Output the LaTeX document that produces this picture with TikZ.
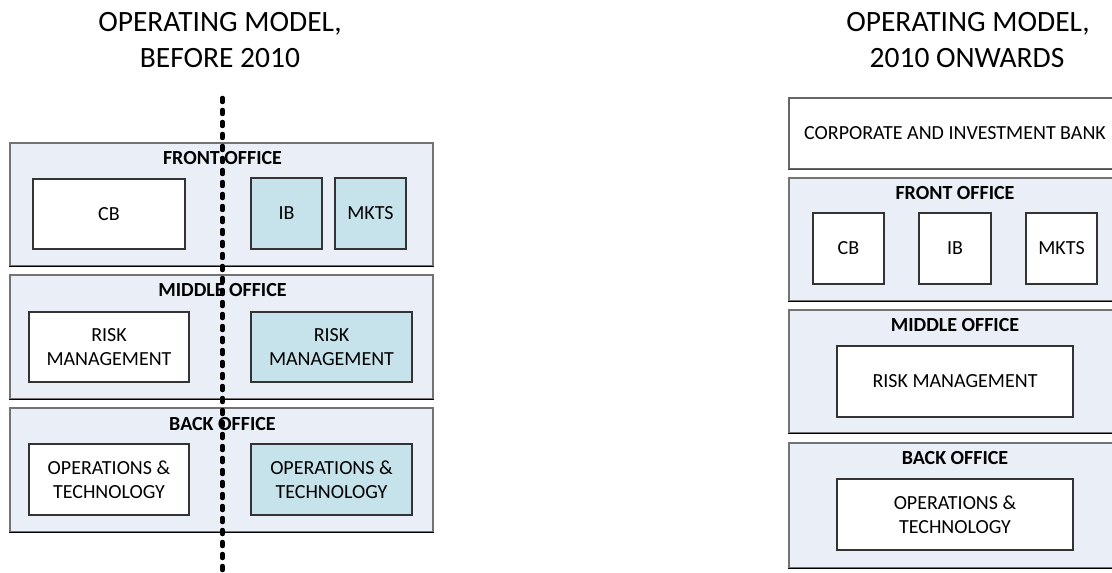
\documentclass[tikz,border=0pt]{standalone}
\usepackage{fontspec}
\setmainfont{Carlito}
\definecolor{panelfill}{HTML}{EAEFF7}
\definecolor{boxblue}{HTML}{C6E2EA}
\newcommand\bodytext{\fontsize{20bp}{24bp}\selectfont}
\newcommand\titletext{\fontsize{29.5bp}{36bp}\selectfont}
\begin{document}
\begin{tikzpicture}[x=1bp,y=-1bp,
  panel/.style={draw=black!55, line width=1.2bp, fill=panelfill, inner sep=0pt},
  panelbase/.style={draw=black, line width=1.3bp},
  whitebox/.style={draw=black!80, line width=1.1bp, fill=white, inner sep=0pt,
                   align=center, font=\bodytext},
  bluebox/.style={whitebox, fill=boxblue},
  heading/.style={anchor=base, inner sep=0pt, font=\bodytext\bfseries},
  title/.style={anchor=base, inner sep=0pt, font=\titletext},
  cutline/.style={draw=black, line width=4.5bp, line cap=round, dash pattern=on 4bp off 8bp}
]
\useasboundingbox (0,0) rectangle (1112,573);
\clip (0,0) rectangle (1112,573);

% ---------- left model ----------
\node[title] (tl1) at (220,32) {OPERATING MODEL,};
\node[title] (tl2) at (220,68) {BEFORE 2010};

\node[panel, minimum width=423bp, minimum height=123bp] (foL) at (221.5,204.5) {};
\node[panel, minimum width=423bp, minimum height=124bp] (moL) at (221.5,337) {};
\node[panel, minimum width=423bp, minimum height=124bp] (boL) at (221.5,470) {};
\foreach \p in {foL,moL,boL} \draw[panelbase] (\p.south west) -- (\p.south east);

\node[heading] (foLh) at (222.5,165) {FRONT OFFICE};
\node[heading] (moLh) at (222.5,297) {MIDDLE OFFICE};
\node[heading] (boLh) at (222.5,430) {BACK OFFICE};

\node[whitebox, minimum width=152bp, minimum height=70bp] (cbL) at (109,214) {CB};
\node[bluebox, minimum width=71bp, minimum height=71bp] (ibL) at (286.5,213.5) {IB};
\node[bluebox, minimum width=71bp, minimum height=71bp] (mkL) at (370.5,213.5) {MKTS};

\node[whitebox, minimum width=160bp, minimum height=70bp] (rmL) at (109,347) {RISK\\MANAGEMENT};
\node[bluebox, minimum width=161bp, minimum height=70bp] (rmLb) at (331.5,347) {RISK\\MANAGEMENT};

\node[whitebox, minimum width=160bp, minimum height=71bp] (otL) at (109,479.5) {OPERATIONS \&\\TECHNOLOGY};
\node[bluebox, minimum width=161bp, minimum height=71bp] (otLb) at (331.5,479.5) {OPERATIONS \&\\TECHNOLOGY};

% dividing cut between the two halves of the old model
\coordinate (cutTop) at (222.5,98);
\coordinate (cutBot) at (222.5,585);
\draw[cutline] (cutTop) -- (cutBot);

% ---------- right model ----------
\node[title] (tr1) at (968,32) {OPERATING MODEL,};
\node[title] (tr2) at (967,68) {2010 ONWARDS};

\node[whitebox, draw=black!60, line width=1.2bp, minimum width=332bp, minimum height=71bp] (cib) at (955,133.5) {CORPORATE AND INVESTMENT BANK};
\draw[panelbase, draw=black!70] (cib.south west) -- (cib.south east);

\node[panel, minimum width=332bp, minimum height=123bp] (foR) at (955,239.5) {};
\node[panel, minimum width=332bp, minimum height=123bp] (moR) at (955,371.5) {};
\node[panel, minimum width=332bp, minimum height=125bp] (boR) at (955,505.5) {};
\foreach \p in {foR,moR,boR} \draw[panelbase] (\p.south west) -- (\p.south east);

\node[heading] (foRh) at (955,200) {FRONT OFFICE};
\node[heading] (moRh) at (955,332) {MIDDLE OFFICE};
\node[heading] (boRh) at (955,464) {BACK OFFICE};

\node[whitebox, minimum width=71bp, minimum height=71bp] (cbR) at (848.5,248.5) {CB};
\node[whitebox, minimum width=72bp, minimum height=71bp] (ibR) at (955,248.5) {IB};
\node[whitebox, minimum width=71bp, minimum height=71bp] (mkR) at (1061.5,248.5) {MKTS};

\node[whitebox, minimum width=236bp, minimum height=71bp] (rmR) at (955,381.5) {RISK MANAGEMENT};
\node[whitebox, minimum width=236bp, minimum height=71bp] (otR) at (955,514.5) {OPERATIONS \&\\TECHNOLOGY};
\end{tikzpicture}
\end{document}
